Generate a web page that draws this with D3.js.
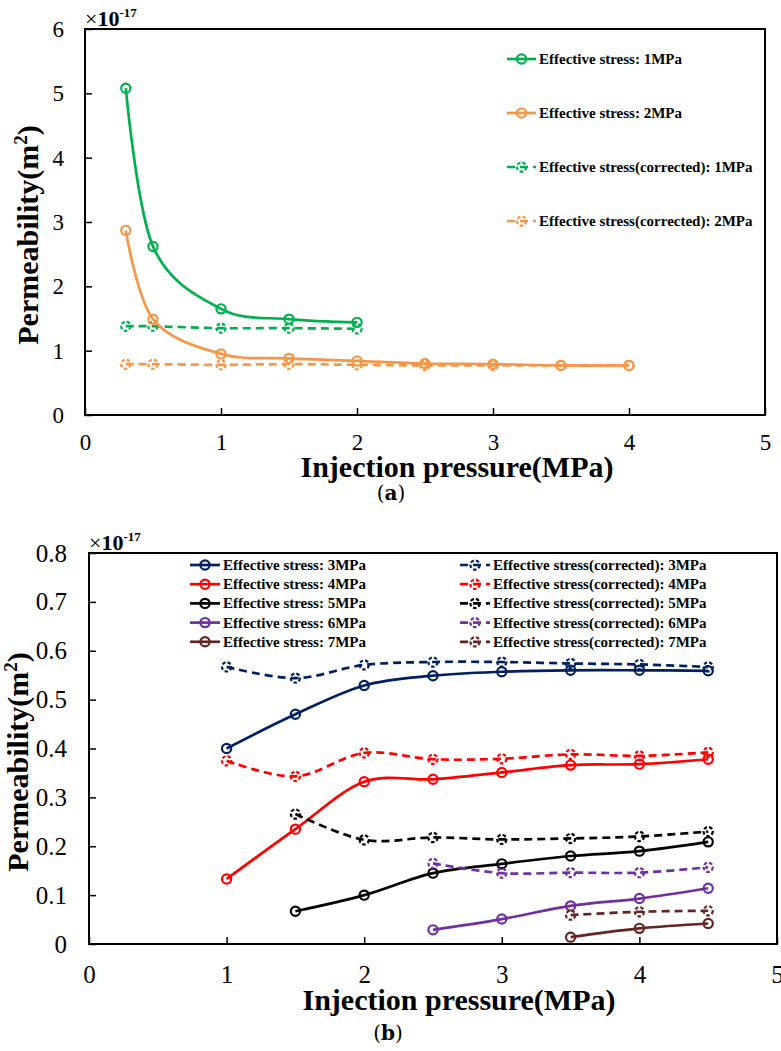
<!DOCTYPE html>
<html><head><meta charset="utf-8">
<script src="https://cdn.jsdelivr.net/npm/d3@7"></script>
<style>
html,body{margin:0;padding:0;background:#fff;}
svg{display:block;}
text{font-family:"Liberation Serif","Times New Roman",Times,serif;fill:#000;}
</style></head><body>
<svg id="chart" width="781" height="1051"></svg>
<script>
// ---------- Panel (a) data ----------
const xTicksA = [0, 1, 2, 3, 4, 5];
const xTickLabelsA = ["0", "1", "2", "3", "4", "5"];
const yTicksA = [0, 1, 2, 3, 4, 5, 6];
const yTickLabelsA = ["0", "1", "2", "3", "4", "5", "6"];
const pressureA_1MPa = [0.3, 0.5, 1, 1.5, 2];
const pressureA_2MPa = [0.3, 0.5, 1, 1.5, 2, 2.5, 3, 3.5, 4];
const permA_1MPa = [5.08, 2.62, 1.65, 1.49, 1.44];
const permA_2MPa = [2.87, 1.49, 0.95, 0.88, 0.84, 0.80, 0.79, 0.77, 0.77];
const permA_corr1MPa = [1.38, 1.38, 1.35, 1.35, 1.34];
const permA_corr2MPa = [0.79, 0.79, 0.78, 0.79, 0.78, 0.77, 0.77, 0.77, 0.77];
const legendA = ["Effective stress: 1MPa", "Effective stress: 2MPa",
                 "Effective stress(corrected): 1MPa", "Effective stress(corrected): 2MPa"];

// ---------- Panel (b) data ----------
const xTicksB = [0, 1, 2, 3, 4, 5];
const xTickLabelsB = ["0", "1", "2", "3", "4", "5"];
const yTicksB = [0, 0.1, 0.2, 0.3, 0.4, 0.5, 0.6, 0.7, 0.8];
const yTickLabelsB = ["0", "0.1", "0.2", "0.3", "0.4", "0.5", "0.6", "0.7", "0.8"];
const pressureB_3MPa = [1, 1.5, 2, 2.5, 3, 3.5, 4, 4.5];
const pressureB_4MPa = [1, 1.5, 2, 2.5, 3, 3.5, 4, 4.5];
const pressureB_5MPa = [1.5, 2, 2.5, 3, 3.5, 4, 4.5];
const pressureB_6MPa = [2.5, 3, 3.5, 4, 4.5];
const pressureB_7MPa = [3.5, 4, 4.5];
const permB_3MPa = [0.400, 0.470, 0.529, 0.549, 0.557, 0.560, 0.560, 0.559];
const permB_corr3MPa = [0.567, 0.544, 0.571, 0.577, 0.577, 0.574, 0.572, 0.567];
const permB_4MPa = [0.133, 0.235, 0.332, 0.337, 0.351, 0.366, 0.368, 0.378];
const permB_corr4MPa = [0.375, 0.343, 0.391, 0.378, 0.379, 0.388, 0.385, 0.392];
const permB_5MPa = [0.067, 0.100, 0.145, 0.164, 0.180, 0.190, 0.209];
const permB_corr5MPa = [0.266, 0.213, 0.218, 0.214, 0.216, 0.220, 0.230];
const permB_6MPa = [0.029, 0.051, 0.078, 0.093, 0.114];
const permB_corr6MPa = [0.165, 0.145, 0.146, 0.146, 0.157];
const permB_7MPa = [0.014, 0.032, 0.042];
const permB_corr7MPa = [0.059, 0.066, 0.068];
const legendB_solid = ["Effective stress: 3MPa", "Effective stress: 4MPa", "Effective stress: 5MPa",
                       "Effective stress: 6MPa", "Effective stress: 7MPa"];
const legendB_corr = ["Effective stress(corrected): 3MPa", "Effective stress(corrected): 4MPa",
                      "Effective stress(corrected): 5MPa", "Effective stress(corrected): 6MPa",
                      "Effective stress(corrected): 7MPa"];

const axisTitleX = "Injection pressure(MPa)";
const axisTitleY = "Permeability(m";

const C = {green:"#00B050", orange:"#F79646", navy:"#002060", red:"#FF0000",
           black:"#000000", purple:"#7030A0", brown:"#632523"};

const svg = d3.select("#chart");
const zip = (xs, ys) => xs.map((v, i) => [v, ys[i]]);

function drawPanel(p) {
  const x = d3.scaleLinear().domain([0, 5]).range([p.left, p.right]);
  const y = d3.scaleLinear().domain([0, p.yMax]).range([p.bottom, p.top]);
  const g = svg.append("g");

  const gx = g.append("g").attr("transform", `translate(0,${p.bottom})`)
    .call(d3.axisBottom(x).tickValues(p.xTicks).tickFormat((d, i) => p.xLabels[i])
      .tickSizeInner(-7).tickSizeOuter(0).tickPadding(p.xPad));
  gx.select(".domain").remove();
  gx.selectAll(".tick line").attr("stroke", "#000").attr("stroke-width", 1.5);
  gx.selectAll(".tick text").attr("font-size", p.tickFont);

  const gy = g.append("g").attr("transform", `translate(${p.left},0)`)
    .call(d3.axisLeft(y).tickValues(p.yTicks).tickFormat((d, i) => p.yLabels[i])
      .tickSizeInner(-7).tickSizeOuter(0).tickPadding(p.yPad));
  gy.select(".domain").remove();
  gy.selectAll(".tick line").attr("stroke", "#000").attr("stroke-width", 1.5);
  gy.selectAll(".tick text").attr("font-size", p.tickFont);

  g.append("rect").attr("x", p.left).attr("y", p.top)
    .attr("width", p.right - p.left).attr("height", p.bottom - p.top)
    .attr("fill", "none").attr("stroke", "#000").attr("stroke-width", 2);

  const line = d3.line().x(d => x(d[0])).y(d => y(d[1])).curve(d3.curveCardinal.tension(0));

  p.series.forEach(s => {
    const pts = zip(s.x, s.y);
    g.append("path").attr("d", line(pts)).attr("fill", "none")
      .attr("stroke", s.color).attr("stroke-width", 2.7)
      .attr("stroke-dasharray", s.dashed ? "8,5" : null);
    g.selectAll(null).data(pts).enter().append("circle")
      .attr("cx", d => x(d[0])).attr("cy", d => y(d[1])).attr("r", 4.6)
      .attr("fill", "none").attr("stroke", s.color).attr("stroke-width", 2.2)
      .attr("stroke-dasharray", s.dashed ? "3.5,2" : null);
  });

  const m = g.append("text").attr("x", p.left).attr("y", p.top - 3).attr("font-size", 22);
  m.append("tspan").text("×");
  m.append("tspan").attr("font-weight", "bold").text("10");
  m.append("tspan").attr("font-size", 13).attr("font-weight", "bold").attr("dy", -9).text("-17");

  g.append("text").attr("x", p.xTitleX).attr("y", p.xTitleY).attr("text-anchor", "middle")
    .attr("font-size", 30).attr("font-weight", "bold").text(axisTitleX);
  const yt = g.append("text").attr("transform", `translate(${p.yTitleX},${p.yTitleY}) rotate(-90)`)
    .attr("text-anchor", "middle").attr("font-size", 30).attr("font-weight", "bold");
  yt.append("tspan").text(axisTitleY);
  yt.append("tspan").attr("font-size", 19).attr("dy", -11).text("2");
  yt.append("tspan").attr("dy", 11).text(")");

  const pl = g.append("text").attr("x", p.labelX).attr("y", p.labelY).attr("text-anchor", "middle")
    .attr("font-size", 20).style("font-family", "'DejaVu Serif', serif");
  pl.append("tspan").text("(");
  pl.append("tspan").attr("font-weight", "bold").text(p.label);
  pl.append("tspan").text(")");

  p.legend.forEach(L => {
    const lg = g.append("g");
    lg.append("line").attr("x1", L.x1).attr("x2", L.x2).attr("y1", L.y).attr("y2", L.y)
      .attr("stroke", L.color).attr("stroke-width", 2.7)
      .attr("stroke-dasharray", L.dashed ? "8,5" : null);
    lg.append("circle").attr("cx", (L.x1 + L.x2) / 2).attr("cy", L.y).attr("r", 4.6)
      .attr("fill", "none").attr("stroke", L.color).attr("stroke-width", 2.2)
      .attr("stroke-dasharray", L.dashed ? "3.5,2" : null);
    lg.append("text").attr("x", L.x2 + 3).attr("y", L.y + 5).attr("font-size", 15)
      .attr("font-weight", "bold").text(L.text);
  });
}

const legA = [
  {text: legendA[0], color: C.green, dashed: false},
  {text: legendA[1], color: C.orange, dashed: false},
  {text: legendA[2], color: C.green, dashed: true},
  {text: legendA[3], color: C.orange, dashed: true}
].map((d, i) => Object.assign(d, {x1: 507, x2: 536, y: 59 + i * 54}));

drawPanel({
  left: 85, right: 765, top: 29, bottom: 415, yMax: 6,
  xTicks: xTicksA, xLabels: xTickLabelsA, yTicks: yTicksA, yLabels: yTickLabelsA,
  tickFont: 23, xPad: 19, yPad: 21,
  xTitleX: 457, xTitleY: 477, yTitleX: 38, yTitleY: 235,
  label: "a", labelX: 391, labelY: 500,
  series: [
    {x: pressureA_1MPa, y: permA_corr1MPa, color: C.green, dashed: true},
    {x: pressureA_2MPa, y: permA_corr2MPa, color: C.orange, dashed: true},
    {x: pressureA_1MPa, y: permA_1MPa, color: C.green, dashed: false},
    {x: pressureA_2MPa, y: permA_2MPa, color: C.orange, dashed: false}
  ],
  legend: legA
});

const colsB = [C.navy, C.red, C.black, C.purple, C.brown];
const legB = [];
legendB_solid.forEach((t, i) => legB.push({text: t, color: colsB[i], dashed: false, x1: 190, x2: 220, y: 565 + i * 19.2}));
legendB_corr.forEach((t, i) => legB.push({text: t, color: colsB[i], dashed: true, x1: 460, x2: 490, y: 565 + i * 19.2}));

drawPanel({
  left: 89, right: 777, top: 553, bottom: 944, yMax: 0.8,
  xTicks: xTicksB, xLabels: xTickLabelsB, yTicks: yTicksB, yLabels: yTickLabelsB,
  tickFont: 25, xPad: 21, yPad: 22,
  xTitleX: 459, xTitleY: 1010, yTitleX: 28, yTitleY: 762,
  label: "b", labelX: 388, labelY: 1040,
  series: [
    {x: pressureB_3MPa, y: permB_3MPa, color: C.navy, dashed: false},
    {x: pressureB_4MPa, y: permB_4MPa, color: C.red, dashed: false},
    {x: pressureB_5MPa, y: permB_5MPa, color: C.black, dashed: false},
    {x: pressureB_6MPa, y: permB_6MPa, color: C.purple, dashed: false},
    {x: pressureB_7MPa, y: permB_7MPa, color: C.brown, dashed: false},
    {x: pressureB_3MPa, y: permB_corr3MPa, color: C.navy, dashed: true},
    {x: pressureB_4MPa, y: permB_corr4MPa, color: C.red, dashed: true},
    {x: pressureB_5MPa, y: permB_corr5MPa, color: C.black, dashed: true},
    {x: pressureB_6MPa, y: permB_corr6MPa, color: C.purple, dashed: true},
    {x: pressureB_7MPa, y: permB_corr7MPa, color: C.brown, dashed: true}
  ],
  legend: legB
});
</script>
</body></html>
